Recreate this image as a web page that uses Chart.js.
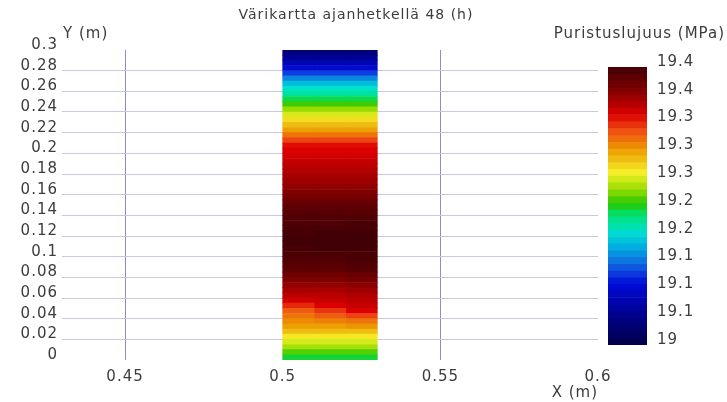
<!DOCTYPE html>
<html>
<head>
<meta charset="utf-8">
<script src="https://cdn.jsdelivr.net/npm/chart.js@4.4.0/dist/chart.umd.min.js"></script>
<style>
  html, body { margin: 0; padding: 0; background: #fff; }
  #wrap { position: relative; width: 727px; height: 402px; }
  #wrap canvas { position: absolute; left: 0; top: 0; }
</style>
</head>
<body>
<div id="wrap">
  <canvas id="map" width="727" height="402"></canvas>
  <canvas id="bar" width="727" height="402"></canvas>
</div>
<script>
// ---- data ----
const titleText = 'Värikartta ajanhetkellä 48 (h)';
const yTitle = 'Y (m)';
const xTitle = 'X (m)';
const cbTitle = 'Puristuslujuus (MPa)';

const yTicks = [0, 0.02, 0.04, 0.06, 0.08, 0.1, 0.12, 0.14, 0.16, 0.18, 0.2, 0.22, 0.24, 0.26, 0.28, 0.3];
const yTickLabels = ['0', '0.02', '0.04', '0.06', '0.08', '0.1', '0.12', '0.14', '0.16', '0.18', '0.2', '0.22', '0.24', '0.26', '0.28', '0.3'];
const xTicks = [0.45, 0.5, 0.55, 0.6];
const xTickLabels = ['0.45', '0.5', '0.55', '0.6'];

// row centres of the strip (m), top to bottom
const rowY = [0.2975, 0.2925, 0.2875, 0.2825, 0.2775, 0.2725, 0.2675, 0.2625, 0.2575, 0.2525,
  0.2475, 0.2425, 0.2375, 0.2325, 0.2275, 0.2225, 0.2175, 0.2125, 0.2075, 0.2025,
  0.1975, 0.1925, 0.1875, 0.1825, 0.1775, 0.1725, 0.1675, 0.1625, 0.1575, 0.1525,
  0.1475, 0.1425, 0.1375, 0.1325, 0.1275, 0.1225, 0.1175, 0.1125, 0.1075, 0.1025,
  0.0975, 0.0925, 0.0875, 0.0825, 0.0775, 0.0725, 0.0675, 0.0625, 0.0575, 0.0525,
  0.0475, 0.0425, 0.0375, 0.0325, 0.0275, 0.0225, 0.0175, 0.0125, 0.0075, 0.0025];
// column edges of the strip (m)
const colEdges = [0.5, 0.51, 0.52, 0.53];

// compressive strength (MPa) per row, one list per column
const strengthLeft = [19.053, 19.069, 19.086, 19.106, 19.127, 19.151, 19.172, 19.188, 19.200, 19.217,
  19.233, 19.250, 19.266, 19.282, 19.295, 19.307, 19.323, 19.340, 19.356, 19.360,
  19.364, 19.369, 19.373, 19.377, 19.381, 19.385, 19.389, 19.397, 19.401, 19.410,
  19.414, 19.418, 19.422, 19.422, 19.426, 19.426, 19.430, 19.430, 19.426, 19.426,
  19.422, 19.418, 19.414, 19.405, 19.397, 19.389, 19.381, 19.373, 19.364, 19.348,
  19.332, 19.323, 19.315, 19.307, 19.295, 19.278, 19.266, 19.254, 19.237, 19.221];
const strengthMid = [19.053, 19.069, 19.086, 19.106, 19.127, 19.151, 19.172, 19.188, 19.200, 19.217,
  19.233, 19.250, 19.266, 19.282, 19.295, 19.307, 19.323, 19.340, 19.356, 19.360,
  19.364, 19.369, 19.373, 19.377, 19.381, 19.385, 19.389, 19.397, 19.401, 19.410,
  19.414, 19.418, 19.422, 19.422, 19.426, 19.430, 19.430, 19.430, 19.430, 19.426,
  19.422, 19.418, 19.414, 19.405, 19.397, 19.389, 19.381, 19.373, 19.369, 19.360,
  19.344, 19.332, 19.319, 19.307, 19.295, 19.278, 19.266, 19.254, 19.237, 19.221];
const strengthRight = [19.053, 19.069, 19.086, 19.106, 19.127, 19.151, 19.172, 19.188, 19.200, 19.217,
  19.233, 19.250, 19.266, 19.282, 19.295, 19.307, 19.323, 19.340, 19.356, 19.360,
  19.364, 19.369, 19.373, 19.377, 19.381, 19.385, 19.389, 19.397, 19.401, 19.410,
  19.414, 19.418, 19.422, 19.426, 19.426, 19.430, 19.430, 19.430, 19.430, 19.426,
  19.426, 19.422, 19.418, 19.410, 19.401, 19.393, 19.385, 19.377, 19.373, 19.369,
  19.360, 19.340, 19.323, 19.311, 19.295, 19.278, 19.266, 19.254, 19.237, 19.221];

// colour bar
const cbMin = 19.02;
const cbMax = 19.43;
const cbTicks = [19.02, 19.061, 19.102, 19.143, 19.184, 19.225, 19.266, 19.307, 19.348, 19.389, 19.43];
const cbTickLabels = ['19', '19.1', '19.1', '19.1', '19.2', '19.2', '19.3', '19.3', '19.3', '19.4', '19.4'];
const cbLevels = [19.025, 19.035, 19.045, 19.055, 19.065, 19.075, 19.085, 19.095, 19.105, 19.115,
  19.125, 19.135, 19.145, 19.155, 19.165, 19.175, 19.185, 19.195, 19.205, 19.215,
  19.225, 19.235, 19.245, 19.255, 19.265, 19.275, 19.285, 19.295, 19.305, 19.315,
  19.325, 19.335, 19.345, 19.355, 19.365, 19.375, 19.385, 19.395, 19.405, 19.415, 19.425];

// ---- style ----
const textColor = '#3c3c3c';
const fontFamily = '"DejaVu Sans", sans-serif';
const cmapStops = [
  [0.00, [0, 0, 70]], [0.10, [0, 0, 135]], [0.22, [0, 10, 215]], [0.29, [20, 100, 225]],
  [0.35, [0, 170, 225]], [0.41, [0, 225, 205]], [0.47, [0, 225, 110]], [0.51, [40, 200, 0]],
  [0.56, [150, 220, 0]], [0.62, [245, 240, 40]], [0.71, [235, 150, 0]], [0.77, [240, 80, 20]],
  [0.83, [220, 0, 0]], [0.92, [125, 0, 0]], [1.00, [65, 0, 5]]
];

function colorFor(v) {
  const t = Math.max(0, Math.min(1, (v - cbMin) / (cbMax - cbMin)));
  for (let i = 1; i < cmapStops.length; i++) {
    const [t1, c1] = cmapStops[i];
    const [t0, c0] = cmapStops[i - 1];
    if (t <= t1) {
      const f = (t - t0) / (t1 - t0);
      const c = c0.map((a, k) => Math.round(a + (c1[k] - a) * f));
      return 'rgb(' + c.join(',') + ')';
    }
  }
  return 'rgb(65,0,5)';
}

Chart.defaults.font.family = fontFamily;
Chart.defaults.font.size = 15;
Chart.defaults.color = textColor;

// wide lettering like the original picture
const spacing = {
  id: 'spacing',
  beforeUpdate(chart) { chart.ctx.letterSpacing = '1px'; },
  beforeDraw(chart) { chart.ctx.letterSpacing = '1px'; }
};

const labels = {
  id: 'labels',
  afterDraw(chart) {
    const ctx = chart.ctx;
    const area = chart.chartArea;
    ctx.save();
    ctx.fillStyle = textColor;
    ctx.textBaseline = 'middle';
    ctx.font = '14px ' + fontFamily;
    ctx.textAlign = 'center';
    ctx.fillText(titleText, 356, 15);
    ctx.font = '15px ' + fontFamily;
    ctx.textAlign = 'left';
    ctx.fillText(yTitle, area.left + 1, area.top - 16);
    ctx.restore();
  }
};

// keep the plot box where the original has it
const fitY = (w) => (s) => { s.width = w; s.paddingTop = 0; s.paddingBottom = 0; };
const fitX = (h) => (s) => { s.height = h; s.paddingLeft = 0; s.paddingRight = 0; };

const columns = [strengthLeft, strengthMid, strengthRight];
const stripSets = columns.map((vals, c) => ({
  data: rowY.map((y) => ({ y: y, x: [colEdges[c], colEdges[c + 1]] })),
  backgroundColor: vals.map(colorFor),
  borderWidth: 0,
  barPercentage: 1,
  categoryPercentage: 1,
  grouped: false
}));

new Chart(document.getElementById('map'), {
  type: 'bar',
  data: { datasets: stripSets },
  options: {
    responsive: false,
    animation: false,
    indexAxis: 'y',
    layout: { padding: { left: 0, top: 50, right: 129, bottom: 0 } },
    plugins: { legend: { display: false }, tooltip: { enabled: false } },
    scales: {
      x: {
        type: 'linear', min: 0.43, max: 0.6,
        afterBuildTicks: (s) => { s.ticks = xTicks.map((v) => ({ value: v })); },
        afterFit: fitX(42),
        ticks: { padding: 8, autoSkip: false, maxRotation: 0, callback: (v, i) => xTickLabels[i] },
        grid: {
          drawTicks: false,
          color: (c) => (c.tick && (c.tick.value === 0.45 || c.tick.value === 0.55)) ? '#8c8cd2' : 'rgba(0,0,0,0)'
        },
        border: { display: false },
        title: { display: true, text: xTitle, align: 'end', padding: { top: 0, bottom: 0 } }
      },
      y: {
        type: 'linear', min: 0, max: 0.3, offset: false,
        afterBuildTicks: (s) => { s.ticks = yTicks.map((v) => ({ value: v })); },
        afterFit: fitY(62),
        ticks: { padding: 4, autoSkip: false, labelOffset: -5, callback: (v, i) => yTickLabels[i] },
        grid: {
          offset: false,
          drawTicks: false,
          color: (c) => (c.tick && c.tick.value > 0.001 && c.tick.value < 0.299) ? '#c8c8e0' : 'rgba(0,0,0,0)'
        },
        border: { display: false }
      }
    }
  },
  plugins: [spacing, labels]
});

const cbLabel = {
  id: 'cbLabel',
  afterDraw(chart) {
    const ctx = chart.ctx;
    ctx.save();
    ctx.fillStyle = textColor;
    ctx.font = '15px ' + fontFamily;
    ctx.textAlign = 'right';
    ctx.textBaseline = 'middle';
    ctx.fillText(cbTitle, 725, 34);
    ctx.restore();
  }
};

new Chart(document.getElementById('bar'), {
  type: 'bar',
  data: {
    datasets: [{
      data: cbLevels.map((v) => ({ y: v, x: [0, 1] })),
      backgroundColor: cbLevels.map(colorFor),
      borderWidth: 0,
      barPercentage: 1,
      categoryPercentage: 1
    }]
  },
  options: {
    responsive: false,
    animation: false,
    indexAxis: 'y',
    layout: { padding: { left: 608, top: 67, right: 0, bottom: 57 } },
    plugins: { legend: { display: false }, tooltip: { enabled: false } },
    scales: {
      x: { type: 'linear', min: 0, max: 1, display: false },
      y: {
        type: 'linear', position: 'right', min: cbMin, max: cbMax, offset: false,
        afterBuildTicks: (s) => { s.ticks = cbTicks.map((v) => ({ value: v })); },
        afterFit: fitY(80),
        ticks: { padding: 10, autoSkip: false, labelOffset: -5, callback: (v, i) => cbTickLabels[i] },
        grid: { display: false, drawTicks: false, offset: false },
        border: { display: false }
      }
    }
  },
  plugins: [spacing, cbLabel]
});
</script>
</body>
</html>
